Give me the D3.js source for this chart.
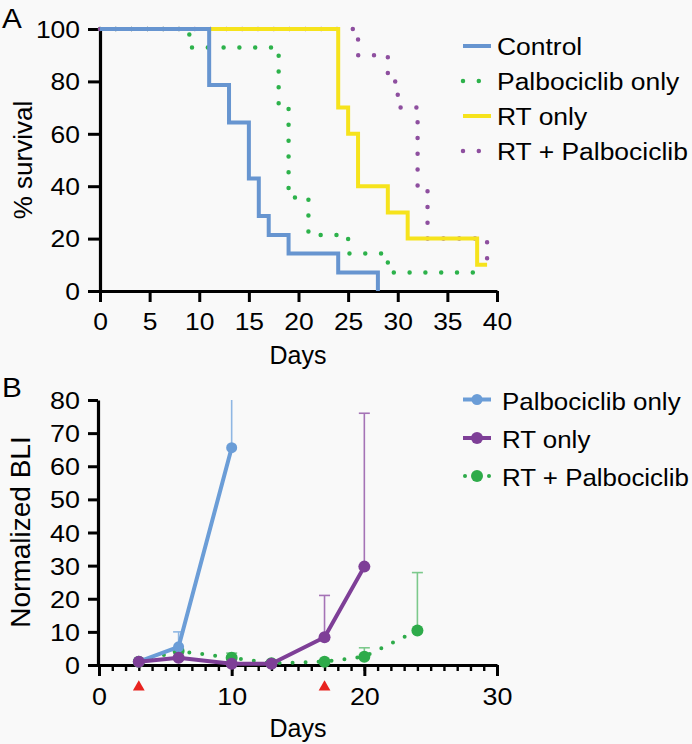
<!DOCTYPE html>
<html>
<head>
<meta charset="utf-8">
<script src="https://cdn.jsdelivr.net/npm/d3@7"></script>
<style>
  html, body { margin: 0; padding: 0; background: #f9f9f9; }
  svg { display: block; }
  text { font-family: "Liberation Sans", Arial, Helvetica, sans-serif; fill: #000; }
  .ax path.domain { stroke: #000; stroke-width: 3.2px; }
  .ax .tick line { stroke: #000; stroke-width: 3px; }
  .ax.minor .tick line { stroke-width: 2.4px; }
</style>
</head>
<body>
<svg id="chart" width="692" height="744"></svg>
<script>
// ---------------- Panel A data (Kaplan–Meier steps) ----------------
const controlDays = [0, 11, 13, 15, 16, 17, 19, 24, 28];
const controlSurv = [100, 78.6, 64.3, 42.9, 28.6, 21.4, 14.3, 7.1, 0];
const palboDays   = [0, 9, 18, 19, 21, 25, 29, 38];
const palboSurv   = [100, 92.9, 71.4, 35.7, 21.4, 14.3, 7.1, 7.1];
const rtDays      = [0, 24, 25, 26, 29, 31, 38, 39];
const rtSurv      = [100, 70, 60, 40, 30, 20, 10, 10];
const comboDays   = [0, 26, 29, 30, 32, 33, 39];
const comboSurv   = [100, 90, 80, 70, 40, 20, 10];
const legendA     = ["Control", "Palbociclib only", "RT only", "RT + Palbociclib"];
const xTicksA     = [0, 5, 10, 15, 20, 25, 30, 35, 40];
const yTicksA     = [0, 20, 40, 60, 80, 100];

// ---------------- Panel B data (normalized BLI) ----------------
const bliPalboDays = [3, 6, 10];
const bliPalbo     = [1.0, 5.5, 65.6];
const bliPalboErr  = [1.0, 10, 86];
const bliRtDays    = [3, 6, 10, 13, 17, 20];
const bliRt        = [1.0, 2.2, 0.4, 0.4, 8.4, 29.7];
const bliRtErr     = [1.0, 2.2, 0.4, 0.4, 21, 76];
const bliComboDays = [3, 6, 10, 13, 17, 20, 24];
const bliCombo     = [1.0, 4.2, 2.2, 0.5, 1.0, 2.5, 10.4];
const bliComboErr  = [1.0, 4.2, 3.6, 0.5, 1.0, 5.2, 27.9];
const rtDoseDays   = [3, 17];
const legendB      = ["Palbociclib only", "RT only", "RT + Palbociclib"];
const xTicksB      = [0, 10, 20, 30];
const xMinorB      = d3.range(0, 31);
const yTicksB      = [0, 10, 20, 30, 40, 50, 60, 70, 80];

// ---------------- helpers ----------------
const svg = d3.select("#chart");
function place(t, x, y, k) {
  t.attr("x", 0).attr("y", 0).attr("dy", null)
   .attr("transform", `translate(${x},${y}) scale(${k},1)`);
}

// ================= PANEL A =================
const xA = d3.scaleLinear().domain([0, 40]).range([100, 497]);
const yA = d3.scaleLinear().domain([0, 100]).range([291, 29]);
const gA = svg.append("g");

const stepLine = d3.line().x(d => xA(d[0])).y(d => yA(d[1])).curve(d3.curveStepAfter);
const seriesA = [
  {days: palboDays,   surv: palboSurv,   color: "#2db24b", dotted: true},
  {days: comboDays,   surv: comboSurv,   color: "#8e4f9f", dotted: true},
  {days: rtDays,      surv: rtSurv,      color: "#f6e31c", dotted: false},
  {days: controlDays, surv: controlSurv, color: "#6795d0", dotted: false}
];

// axes A (drawn under the curves)
const axA_x = gA.append("g").attr("class", "ax").attr("transform", `translate(0,${yA(0)})`)
  .call(d3.axisBottom(xA).tickValues(xTicksA).tickSize(11).tickSizeOuter(0).tickFormat(d3.format("d")));
const axA_y = gA.append("g").attr("class", "ax").attr("transform", `translate(${xA(0)},0)`)
  .call(d3.axisLeft(yA).tickValues(yTicksA).tickSize(12).tickSizeOuter(0).tickFormat(d3.format("d")));
[axA_x, axA_y].forEach(a => {
  a.selectAll("text").attr("font-size", 23).attr("font-family", null);
});
axA_x.selectAll(".tick text").each(function () { place(d3.select(this), 0, 39, 1.15); });
axA_y.selectAll(".tick text").each(function () { place(d3.select(this).attr("text-anchor", "end"), -20, 8.2, 1.15); });

seriesA.forEach(s => {
  const pts = s.days.map((d, i) => [d, s.surv[i]]);
  gA.append("path").attr("d", stepLine(pts))
    .attr("fill", "none").attr("stroke", s.color)
    .attr("stroke-width", s.dotted ? 4.5 : 4)
    .attr("stroke-linecap", s.dotted ? "round" : "butt")
    .attr("stroke-dasharray", s.dotted ? "0 15.8" : null);
});

// labels A
place(gA.append("text").text("A").attr("font-size", 27), 2, 28, 1.1);
gA.append("text").text("Days").attr("font-size", 25).attr("text-anchor", "middle")
  .attr("x", 298).attr("y", 364);
gA.append("text").text("% survival").attr("font-size", 26).attr("text-anchor", "middle")
  .attr("transform", "translate(32,160) rotate(-90)");

// legend A
const legYA = [46, 81, 116, 151];
legendA.forEach((name, i) => {
  const s = [seriesA[3], seriesA[0], seriesA[2], seriesA[1]][i];
  gA.append("line").attr("x1", 463).attr("x2", 491).attr("y1", legYA[i]).attr("y2", legYA[i])
    .attr("stroke", s.color).attr("stroke-width", s.dotted ? 4.5 : 4)
    .attr("stroke-linecap", s.dotted ? "round" : "butt")
    .attr("stroke-dasharray", s.dotted ? "0 15.8" : null);
  place(gA.append("text").text(name).attr("font-size", 24.5), 497, legYA[i] + 8.8, 1.08);
});

// ================= PANEL B =================
const xB = d3.scaleLinear().domain([0, 30]).range([99, 497]);
const yB = d3.scaleLinear().domain([0, 80]).range([665, 400]);
const gB = svg.append("g");

const seriesB = [
  {days: bliComboDays, v: bliCombo, err: bliComboErr, color: "#2eab4a", errColor: "#7cc98c", dotted: true,  r: 6},
  {days: bliPalboDays, v: bliPalbo, err: bliPalboErr, color: "#6b9dd7", errColor: "#8fb7e3", dotted: false, r: 5.5},
  {days: bliRtDays,    v: bliRt,    err: bliRtErr,    color: "#7e3f97", errColor: "#a573b6", dotted: false, r: 6}
];
const lineB = d3.line().x(d => xB(d[0])).y(d => yB(d[1]));
const yMaxB = yB.domain()[1];

// axes B (drawn first so marks sit on top)
const axB_minor = gB.append("g").attr("class", "ax minor").attr("transform", `translate(0,${yB(0)})`)
  .call(d3.axisBottom(xB).tickValues(xMinorB).tickSize(6).tickSizeOuter(0).tickFormat(() => ""));
axB_minor.select(".domain").remove();
const axB_x = gB.append("g").attr("class", "ax").attr("transform", `translate(0,${yB(0)})`)
  .call(d3.axisBottom(xB).tickValues(xTicksB).tickSize(11).tickSizeOuter(0).tickFormat(d3.format("d")));
const axB_y = gB.append("g").attr("class", "ax").attr("transform", `translate(98,0)`)
  .call(d3.axisLeft(yB).tickValues(yTicksB).tickSize(10).tickSizeOuter(0).tickFormat(d3.format("d")));
[axB_x, axB_y].forEach(a => {
  a.selectAll("text").attr("font-size", 24).attr("font-family", null);
});
axB_x.selectAll(".tick text").each(function () { place(d3.select(this), 0, 40, 1.12); });
axB_y.selectAll(".tick text").each(function () { place(d3.select(this).attr("text-anchor", "end"), -18, 8.6, 1.12); });

seriesB.forEach(s => {
  const g = gB.append("g");
  // error bars (upper only)
  s.days.forEach((d, i) => {
    if (s.err[i] <= s.v[i] + 0.05) return;
    const top = Math.min(s.err[i], yMaxB);
    g.append("line").attr("x1", xB(d)).attr("x2", xB(d))
      .attr("y1", yB(s.v[i])).attr("y2", yB(top))
      .attr("stroke", s.errColor).attr("stroke-width", 1.6);
    if (s.err[i] <= yMaxB) {
      g.append("line").attr("x1", xB(d) - 5.5).attr("x2", xB(d) + 5.5)
        .attr("y1", yB(top)).attr("y2", yB(top))
        .attr("stroke", s.errColor).attr("stroke-width", 1.6);
    }
  });
  const pts = s.days.map((d, i) => [d, s.v[i]]);
  g.append("path").attr("d", lineB(pts)).attr("fill", "none")
    .attr("stroke", s.color).attr("stroke-width", 4)
    .attr("stroke-linecap", s.dotted ? "round" : "butt")
    .attr("stroke-linejoin", "round")
    .attr("stroke-dasharray", s.dotted ? "0 13" : null);
  g.selectAll("circle").data(pts).join("circle")
    .attr("cx", d => xB(d[0])).attr("cy", d => yB(d[1])).attr("r", s.r)
    .attr("fill", s.color);
});

// RT dose markers
const tri = d3.symbol().type(d3.symbolTriangle).size(60);
gB.selectAll("path.dose").data(rtDoseDays).join("path").attr("class", "dose")
  .attr("d", tri).attr("fill", "#e8231f")
  .attr("transform", d => `translate(${xB(d)},687)`);

// labels B
place(gB.append("text").text("B").attr("font-size", 27), 2, 397, 1.1);
gB.append("text").text("Days").attr("font-size", 25).attr("text-anchor", "middle")
  .attr("x", 298).attr("y", 737);
gB.append("text").text("Normalized BLI").attr("font-size", 28).attr("text-anchor", "middle")
  .attr("transform", "translate(30,532) rotate(-90)");

// legend B
const legYB = [399.5, 438, 476];
const legOrderB = [seriesB[1], seriesB[2], seriesB[0]];
legendB.forEach((name, i) => {
  const s = legOrderB[i];
  const y = legYB[i];
  if (s.dotted) {
    [465, 489].forEach(x => gB.append("circle").attr("cx", x).attr("cy", y).attr("r", 2).attr("fill", s.color));
  } else {
    gB.append("line").attr("x1", 463).attr("x2", 491).attr("y1", y).attr("y2", y)
      .attr("stroke", s.color).attr("stroke-width", 4);
  }
  gB.append("circle").attr("cx", 477).attr("cy", y).attr("r", s.r).attr("fill", s.color);
  place(gB.append("text").text(name).attr("font-size", 24), 502, y + 10, 1.08);
});
</script>
</body>
</html>
